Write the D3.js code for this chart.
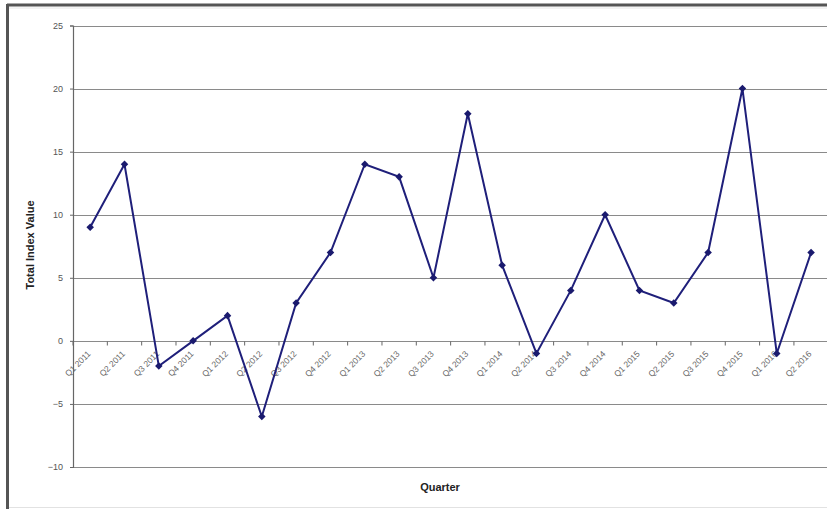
<!DOCTYPE html>
<html>
<head>
<meta charset="utf-8">
<script src="https://cdn.jsdelivr.net/npm/d3@7/dist/d3.min.js"></script>
<style>
  html, body { margin: 0; padding: 0; background: #ffffff; }
  svg { display: block; }
</style>
</head>
<body>
<svg id="chart" width="827" height="509"></svg>
<script>
// Quarterly total index values, Q1 2011 – Q2 2016
const quarters = [
  "Q1 2011", "Q2 2011", "Q3 2011", "Q4 2011",
  "Q1 2012", "Q2 2012", "Q3 2012", "Q4 2012",
  "Q1 2013", "Q2 2013", "Q3 2013", "Q4 2013",
  "Q1 2014", "Q2 2014", "Q3 2014", "Q4 2014",
  "Q1 2015", "Q2 2015", "Q3 2015", "Q4 2015",
  "Q1 2016", "Q2 2016"
];
const indexValues = [
  9, 14, -2, 0,
  2, -6, 3, 7,
  14, 13, 5, 18,
  6, -1, 4, 10,
  4, 3, 7, 20,
  -1, 7
];
const yTicks = [-10, -5, 0, 5, 10, 15, 20, 25];

const svg = d3.select("#chart");
const W = 827, H = 509;
const font = "Arial, 'Liberation Sans', sans-serif";

// Outer frame of the chart area
svg.append("rect").attr("x", 0).attr("y", 0).attr("width", W).attr("height", H).attr("fill", "#ffffff");
svg.append("line").attr("x1", 7).attr("x2", W).attr("y1", 5).attr("y2", 5)
  .attr("stroke", "#555").attr("stroke-width", 3);
svg.append("line").attr("x1", 7.5).attr("x2", 7.5).attr("y1", 4).attr("y2", H)
  .attr("stroke", "#555").attr("stroke-width", 3);
svg.append("line").attr("x1", 9).attr("x2", W).attr("y1", 8).attr("y2", 8)
  .attr("stroke", "#e6e6e6").attr("stroke-width", 1);
svg.append("line").attr("x1", 9).attr("x2", W).attr("y1", 507.5).attr("y2", 507.5)
  .attr("stroke", "#e2e2e2").attr("stroke-width", 1);

const plotLeft = 73, plotTop = 25.5, plotBottom = 467;
const step = 34.33;
const x = d3.scaleBand().domain(quarters)
  .range([plotLeft, plotLeft + step * quarters.length]).paddingInner(0).paddingOuter(0);
const y = d3.scaleLinear().domain([-10, 25]).range([plotBottom, plotTop]);

const g = svg.append("g");

// Horizontal gridlines
g.append("g").selectAll("line").data(yTicks.filter(t => t !== -10)).join("line")
  .attr("x1", plotLeft).attr("x2", W)
  .attr("y1", d => Math.round(y(d)) + 0.5).attr("y2", d => Math.round(y(d)) + 0.5)
  .attr("stroke", "#8a8a8a").attr("stroke-width", 1.2);

// Bottom edge of plot area
g.append("line").attr("x1", plotLeft).attr("x2", W)
  .attr("y1", Math.round(y(-10)) + 0.5).attr("y2", Math.round(y(-10)) + 0.5)
  .attr("stroke", "#8a8a8a").attr("stroke-width", 1.2);

// Y axis
const yAxis = d3.axisLeft(y).tickValues(yTicks).tickSize(3).tickPadding(7);
const yG = g.append("g").attr("transform", `translate(${plotLeft},0)`).call(yAxis);
yG.select(".domain").attr("stroke", "#666").attr("stroke-width", 1.2);
yG.selectAll(".tick line").attr("stroke", "#666");
yG.selectAll("text").attr("fill", "#555").attr("font-family", font)
  .attr("font-size", 9);

// X axis along the zero line
const xAxis = d3.axisBottom(x).tickSize(0).tickPadding(0);
const xG = g.append("g").attr("transform", `translate(0,${Math.round(y(0)) + 0.5})`).call(xAxis);
xG.select(".domain").remove();
xG.selectAll(".tick text")
  .attr("fill", "#666")
  .attr("font-family", font)
  .attr("font-size", 8.5)
  .attr("text-anchor", "end")
  .attr("dy", 0)
  .attr("y", 0)
  .attr("transform", "translate(1,13) rotate(-45)");
// Tick marks at category boundaries
xG.append("g").selectAll("line").data(d3.range(quarters.length + 1)).join("line")
  .attr("x1", i => plotLeft + i * step).attr("x2", i => plotLeft + i * step)
  .attr("y1", 0).attr("y2", 4)
  .attr("stroke", "#666").attr("stroke-width", 1);

// Series line
const cx = d => x(d.q) + x.bandwidth() / 2;
const pts = quarters.map((q, i) => ({ q, v: indexValues[i] }));
g.append("path").datum(pts)
  .attr("fill", "none").attr("stroke", "#1f1f7a").attr("stroke-width", 2)
  .attr("stroke-linejoin", "miter")
  .attr("d", d3.line().x(cx).y(d => y(d.v)));

// Diamond markers
g.append("g").selectAll("path").data(pts).join("path")
  .attr("transform", d => `translate(${cx(d)},${y(d.v)})`)
  .attr("d", d3.symbol().type(d3.symbolDiamond2).size(36))
  .attr("fill", "#1a1a6e");

// Axis titles
svg.append("text")
  .attr("transform", "translate(34,245) rotate(-90)")
  .attr("text-anchor", "middle")
  .attr("font-family", font)
  .attr("font-weight", "bold").attr("font-size", 11).attr("fill", "#222")
  .text("Total Index Value");
svg.append("text")
  .attr("x", 440).attr("y", 491)
  .attr("text-anchor", "middle")
  .attr("font-family", font)
  .attr("font-weight", "bold").attr("font-size", 11).attr("fill", "#222")
  .text("Quarter");
</script>
</body>
</html>
